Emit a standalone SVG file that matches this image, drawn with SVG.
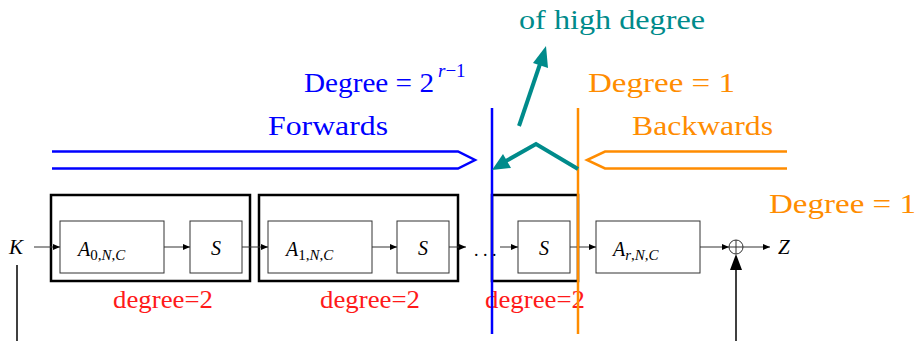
<svg xmlns="http://www.w3.org/2000/svg" width="918" height="341" viewBox="0 0 918 341">
<style>
text{font-family:"Liberation Serif","Times New Roman",Tinos,"DejaVu Serif","Noto Serif",FreeSerif,serif}
.m{font-style:italic}
.up{font-style:normal}
.outer{fill:none;stroke:#000;stroke-width:2.5}
.inner{fill:#fff;stroke:#333;stroke-width:1}
.c{stroke:#333;stroke-width:1;fill:none}
.red{fill:#ff1a1a;font-size:25px}
.big{font-size:28px}
.blue{fill:#0000ff}
.org{fill:#ff8c00}
</style>
<defs>
<marker id="ah" markerUnits="userSpaceOnUse" markerWidth="8" markerHeight="8" refX="7" refY="4" orient="auto">
<path d="M0,1 L7,4 L0,7 Z" fill="#000"/>
</marker>
</defs>
<rect width="918" height="341" fill="#fff"/>

<g id="stage1">
<rect class="outer" x="51" y="195" width="199" height="86"/>
<rect class="inner" x="60" y="221" width="104" height="52"/>
<text class="m" x="78" y="256" font-size="20">A<tspan font-size="15" dy="4"><tspan class="up">0,</tspan>N<tspan class="up">,</tspan>C</tspan></text>
<rect class="inner" x="190" y="221" width="52" height="52"/>
<text class="m" x="216" y="255" font-size="20" text-anchor="middle">S</text>
<text class="red" x="163" y="308" text-anchor="middle" textLength="100" lengthAdjust="spacingAndGlyphs">degree=2</text>
</g>

<g id="stage2">
<rect class="outer" x="259" y="195" width="199" height="86"/>
<rect class="inner" x="268" y="221" width="104" height="52"/>
<text class="m" x="286" y="256" font-size="20">A<tspan font-size="15" dy="4"><tspan class="up">1,</tspan>N<tspan class="up">,</tspan>C</tspan></text>
<rect class="inner" x="397" y="221" width="52" height="52"/>
<text class="m" x="423" y="255" font-size="20" text-anchor="middle">S</text>
<text class="red" x="370" y="308" text-anchor="middle" textLength="100" lengthAdjust="spacingAndGlyphs">degree=2</text>
</g>

<g id="stage3">
<rect class="outer" x="492" y="195" width="86" height="86"/>
<rect class="inner" x="518" y="221" width="52" height="52"/>
<text class="m" x="544" y="255" font-size="20" text-anchor="middle">S</text>
<text class="red" x="535" y="308" text-anchor="middle" textLength="100" lengthAdjust="spacingAndGlyphs">degree=2</text>
</g>

<g id="final">
<rect class="inner" x="596" y="221" width="104" height="52"/>
<text class="m" x="613" y="256" font-size="20">A<tspan font-size="15" dy="4">r<tspan class="up">,</tspan>N<tspan class="up">,</tspan>C</tspan></text>
</g>

<g id="xor">
<circle cx="736" cy="247" r="7" fill="#fff" stroke="#333" stroke-width="1"/>
<path d="M729,247 H743 M736,240 V254" stroke="#333" stroke-width="1"/>
</g>

<g id="labels">
<text class="m" x="9" y="254" font-size="21">K</text>
<text class="m" x="778" y="254" font-size="21">Z</text>
<text x="474" y="256" font-size="18">. . .</text>
</g>

<g id="connectors">
<line class="c" x1="34" y1="247" x2="60" y2="247" marker-end="url(#ah)"/>
<line class="c" x1="164" y1="247" x2="190" y2="247" marker-end="url(#ah)"/>
<line class="c" x1="242" y1="247" x2="268" y2="247" marker-end="url(#ah)"/>
<line class="c" x1="372" y1="247" x2="397" y2="247" marker-end="url(#ah)"/>
<line class="c" x1="449" y1="247" x2="466" y2="247" marker-end="url(#ah)"/>
<line class="c" x1="500" y1="247" x2="518" y2="247" marker-end="url(#ah)"/>
<line class="c" x1="570" y1="247" x2="596" y2="247" marker-end="url(#ah)"/>
<line class="c" x1="700" y1="247" x2="729" y2="247" marker-end="url(#ah)"/>
<line class="c" x1="743" y1="247" x2="770" y2="247" marker-end="url(#ah)"/>
<line x1="17" y1="265" x2="17" y2="341" stroke="#000" stroke-width="1.5"/>
<line x1="736" y1="341" x2="736" y2="268" stroke="#000" stroke-width="1.5"/>
<path d="M736,254 L742,270 L730,270 Z" fill="#000"/>
</g>

<g id="forwards">
<path d="M52,151.5 H458 L475,160 L458,168.5 H52" fill="none" stroke="#0000ff" stroke-width="2.5"/>
<text class="blue big" x="268" y="135" textLength="120" lengthAdjust="spacingAndGlyphs">Forwards</text>
<text class="blue big" x="304" y="92" textLength="130" lengthAdjust="spacingAndGlyphs">Degree = 2</text>
<text class="m blue" x="438" y="77" font-size="19">r<tspan class="up">−1</tspan></text>
<line x1="492" y1="108" x2="492" y2="334" stroke="#0000ff" stroke-width="2.5"/>
</g>

<g id="backwards">
<path d="M787,151.5 H605 L587,160 L605,168.5 H787" fill="none" stroke="#ff8c00" stroke-width="2.5"/>
<text class="org big" x="632" y="135" textLength="141" lengthAdjust="spacingAndGlyphs">Backwards</text>
<text class="org big" x="588" y="92" textLength="147" lengthAdjust="spacingAndGlyphs">Degree = 1</text>
<text class="org big" x="769" y="213" textLength="147" lengthAdjust="spacingAndGlyphs">Degree = 1</text>
<line x1="578" y1="108" x2="578" y2="334" stroke="#ff8c00" stroke-width="2.5"/>
</g>

<g id="highdegree">
<text class="big" x="519" y="29" fill="#008b8b" textLength="186" lengthAdjust="spacingAndGlyphs">of high degree</text>
<line x1="519" y1="126" x2="540" y2="64" stroke="#008b8b" stroke-width="4"/>
<path d="M546,46 L548,68 L533,63 Z" fill="#008b8b"/>
<polyline points="578,169 536,144 506,161" fill="none" stroke="#008b8b" stroke-width="4"/>
<path d="M492,170 L503,154 L511,168 Z" fill="#008b8b"/>
</g>
</svg>
